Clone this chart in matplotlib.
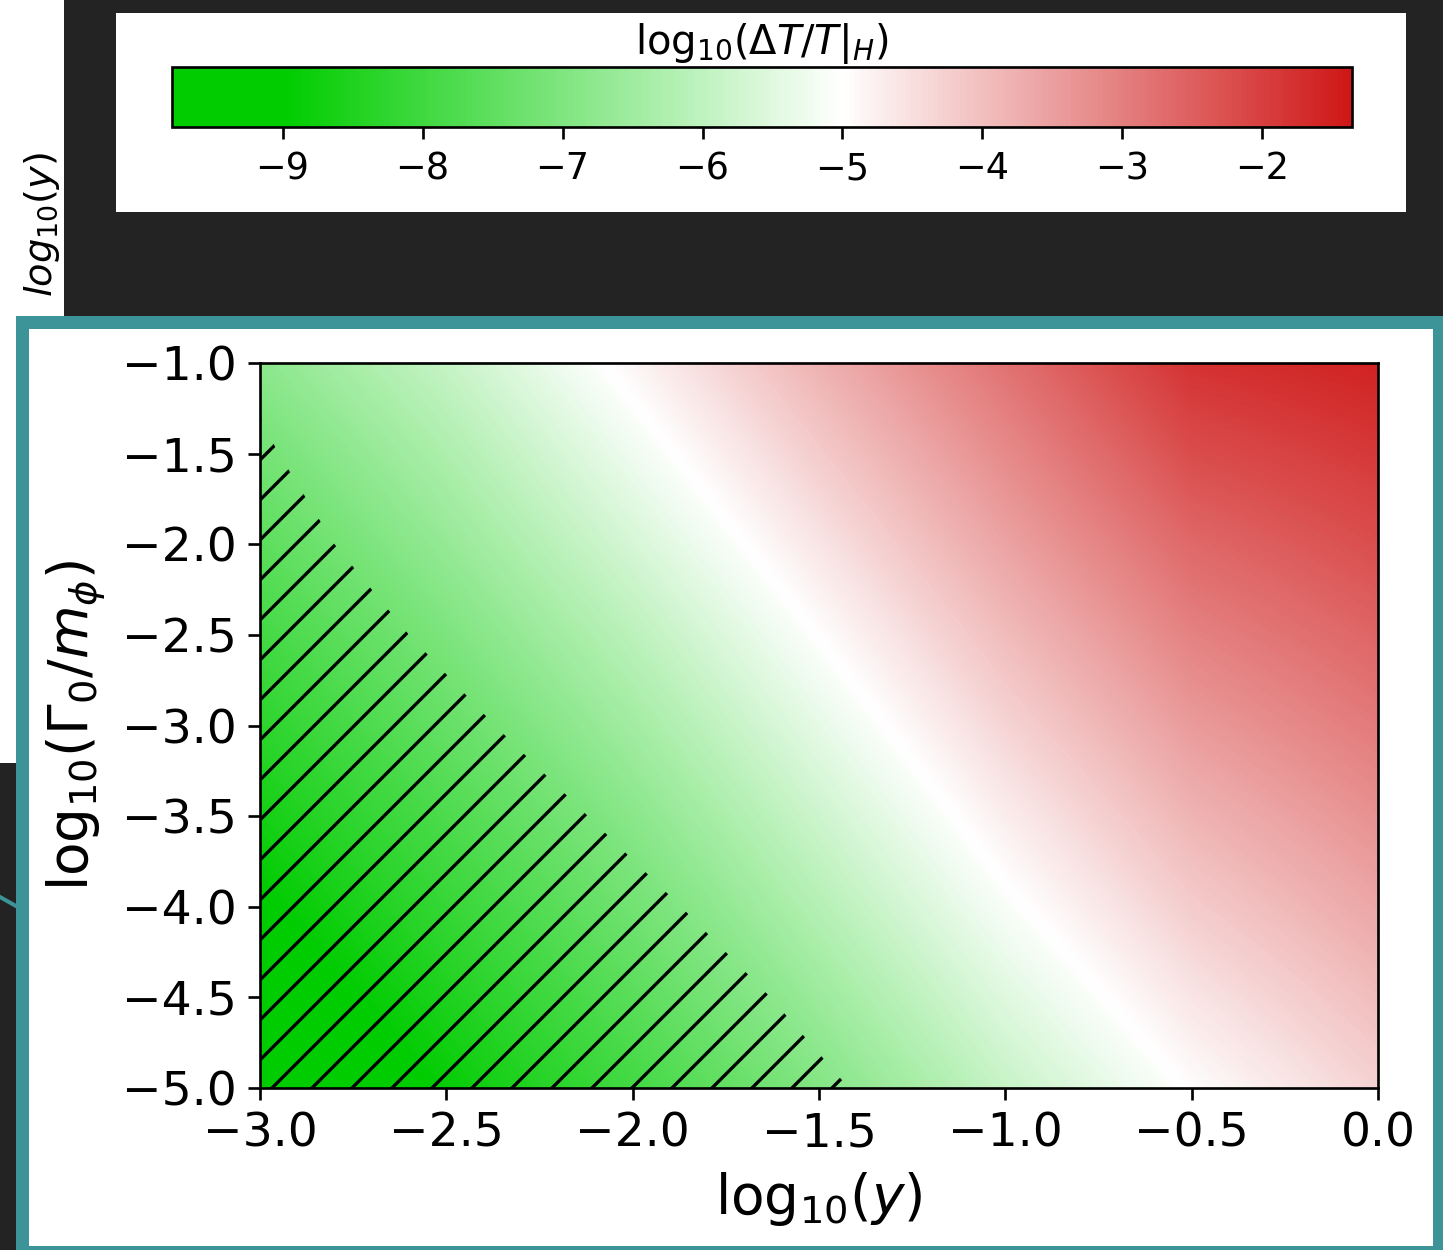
import numpy as np
import matplotlib
matplotlib.use("Agg")
import matplotlib.pyplot as plt
from matplotlib.colors import LinearSegmentedColormap, Normalize
from matplotlib.patches import Rectangle
from matplotlib.lines import Line2D

log_y = [-3.0, -2.5, -2.0, -1.5, -1.0, -0.5, 0.0]
log_gamma = [-1.0, -1.5, -2.0, -2.5, -3.0, -3.5, -4.0, -4.5, -5.0]

# log10(dT/T|_H), one row per log_gamma value (top row = -1.0)
dT_row_m10 = [-6.80, -5.90, -4.85, -3.80, -2.80, -1.80, -1.55]
dT_row_m15 = [-7.18, -6.28, -5.25, -4.20, -3.19, -2.22, -1.90]
dT_row_m20 = [-7.55, -6.65, -5.65, -4.60, -3.57, -2.65, -2.24]
dT_row_m25 = [-7.93, -7.03, -6.06, -5.00, -3.96, -3.05, -2.59]
dT_row_m30 = [-8.30, -7.40, -6.45, -5.39, -4.34, -3.44, -2.93]
dT_row_m35 = [-8.68, -7.78, -6.83, -5.78, -4.73, -3.83, -3.28]
dT_row_m40 = [-9.05, -8.15, -7.20, -6.16, -5.11, -4.21, -3.62]
dT_row_m45 = [-9.43, -8.53, -7.58, -6.55, -5.50, -4.60, -3.97]
dT_row_m50 = [-9.79, -8.90, -7.95, -6.93, -5.88, -4.98, -4.31]

# edge of the excluded (hatched) region
excl_gamma = [-1.30, -1.5, -2.0, -2.5, -3.0, -3.5, -4.0, -4.5, -5.0]
excl_y = [-3.00, -2.95, -2.80, -2.60, -2.37, -2.12, -1.87, -1.63, -1.42]

cbar_min, cbar_max = -9.79, -1.36

W, H, DPI = 1443, 1250, 240
DARK = "#232323"
TEAL = "#3d9498"


def box(x0, y0, x1, y1):
    # pixel box (top-left origin) -> figure fraction rect
    return [x0 / W, 1 - y1 / H, (x1 - x0) / W, (y1 - y0) / H]


def rect(fig, x0, y0, x1, y1, color, z):
    l, b, w, h = box(x0, y0, x1, y1)
    fig.add_artist(Rectangle((l, b), w, h, transform=fig.transFigure,
                             facecolor=color, edgecolor="none", zorder=z))


def main():
    plt.rcParams["hatch.linewidth"] = 1.0

    fig = plt.figure(figsize=(W / DPI, H / DPI), dpi=DPI, facecolor=DARK)

    # screenshot-like backgrounds
    rect(fig, 0, 316, 16, 763, "white", -5)
    rect(fig, 16, 316, W, H, TEAL, -5)
    rect(fig, 29, 329, 1433, 1246, "white", -4)
    rect(fig, 116, 13, 1406, 212, "white", -4)
    fig.add_artist(Line2D([0, 16 / W], [1 - 897 / H, 1 - 906 / H],
                          transform=fig.transFigure, color=TEAL, lw=1.2, zorder=-3))

    # cut-off label from a panel behind
    ax_bits = fig.add_axes(box(0, 0, 64, 316))
    ax_bits.set_xlim(0, 64)
    ax_bits.set_ylim(316, 0)
    ax_bits.set_xticks([])
    ax_bits.set_yticks([])
    for s in ax_bits.spines.values():
        s.set_visible(False)
    ax_bits.set_facecolor("white")
    ax_bits.text(52, 224, r"$log_{10}(y)$", rotation=90, rotation_mode="anchor",
                 ha="center", va="baseline", fontsize=11.5, clip_on=True)

    # colormap: flat green up to -9, white at -5, red at the top
    span = cbar_max - cbar_min
    cmap = LinearSegmentedColormap.from_list("gwr", [
        (0.0, "#00cc00"),
        ((-9 - cbar_min) / span, "#00cc00"),
        ((-5 - cbar_min) / span, "#ffffff"),
        (1.0, "#cf1717"),
    ])
    norm = Normalize(vmin=cbar_min, vmax=cbar_max)

    z = np.array([dT_row_m10, dT_row_m15, dT_row_m20, dT_row_m25, dT_row_m30,
                  dT_row_m35, dT_row_m40, dT_row_m45, dT_row_m50])
    dx = abs(log_y[1] - log_y[0]) / 2
    dy = abs(log_gamma[1] - log_gamma[0]) / 2

    ax = fig.add_axes(box(260, 363, 1378, 1088))
    im = ax.imshow(z, cmap=cmap, norm=norm, origin="upper", aspect="auto",
                   extent=[min(log_y) - dx, max(log_y) + dx,
                           min(log_gamma) - dy, max(log_gamma) + dy],
                   interpolation="bilinear", interpolation_stage="data")
    ax.fill_betweenx(excl_gamma, min(log_y), excl_y, facecolor="none",
                     edgecolor="black", hatch="//", linewidth=0)
    ax.set_xlim(min(log_y), max(log_y))
    ax.set_ylim(min(log_gamma), max(log_gamma))
    ax.set_xticks(np.arange(-3.0, 0.01, 0.5))
    ax.set_yticks(np.arange(-5.0, -0.99, 0.5))
    ax.tick_params(labelsize=14.2)
    ax.set_xlabel(r"$\mathrm{log}_{10}(y)$", fontsize=16.5)
    ax.set_ylabel(r"$\mathrm{log}_{10}(\Gamma_0/m_\phi)$", fontsize=16.5)

    cax = fig.add_axes(box(172, 67, 1352, 127))
    cb = fig.colorbar(im, cax=cax, orientation="horizontal")
    cb.set_ticks(range(-9, -1))
    cax.tick_params(labelsize=11)
    cax.set_title(r"$\mathrm{log}_{10}(\Delta T/T|_H)$", fontsize=12, pad=4)

    fig.savefig("out.png", dpi=DPI, facecolor=DARK)


if __name__ == "__main__":
    main()
